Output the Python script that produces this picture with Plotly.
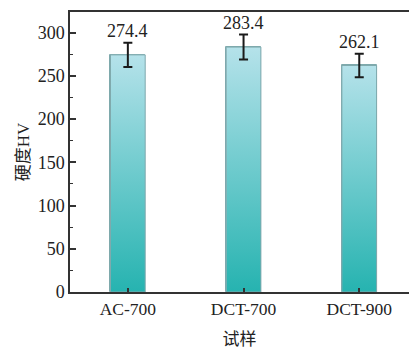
import plotly.graph_objects as go

categories = ["AC-700", "DCT-700", "DCT-900"]
hardness = [274.4, 283.4, 262.1]
errors = [14.0, 14.5, 13.5]
y_ticks = [0, 50, 100, 150, 200, 250, 300]

FONT = "Liberation Serif, Times New Roman, Noto Sans CJK SC, serif"
BAR_W = 0.3
x_pos = list(range(len(categories)))

fig = go.Figure()

# gradient-filled bars (drawn via scatter polygons on the numeric axis)
for i, v in zip(x_pos, hardness):
    xs = [i - BAR_W / 2, i + BAR_W / 2, i + BAR_W / 2, i - BAR_W / 2, i - BAR_W / 2]
    ys = [0, 0, v, v, 0]
    fig.add_trace(go.Scatter(
        x=xs, y=ys, mode="lines", fill="toself",
        line=dict(color="#7fa9ad", width=1),
        fillgradient=dict(type="vertical",
                          colorscale=[[0, "#26b3b0"], [1, "#b5e2ea"]]),
        hoverinfo="skip", showlegend=False,
    ))

# bar trace (outline) for the values
fig.add_trace(go.Bar(
    x=x_pos, y=hardness, width=BAR_W,
    marker=dict(color="rgba(0,0,0,0)", line=dict(color="#7fa9ad", width=1)),
    showlegend=False,
))

# error bars
fig.add_trace(go.Scatter(
    x=x_pos, y=hardness, mode="markers",
    marker=dict(size=1, color="rgba(0,0,0,0)"),
    error_y=dict(type="data", array=errors, visible=True,
                 color="#1a1a1a", thickness=2, width=4.5),
    showlegend=False,
))

for i, v, e in zip(x_pos, hardness, errors):
    fig.add_annotation(x=i, y=v + e, text=f"{v}", showarrow=False,
                       yanchor="bottom", yshift=0,
                       font=dict(family=FONT, size=18, color="#222"))

fig.update_layout(
    width=409, height=349,
    margin=dict(l=70, r=0, t=12, b=57),
    paper_bgcolor="white", plot_bgcolor="white",
    font=dict(family=FONT, size=17, color="#222"),
    bargap=0,
)
fig.update_xaxes(
    range=[-0.5, 2.43], tickvals=x_pos, ticktext=categories,
    showline=True, linecolor="#333", linewidth=1.5, mirror=True,
    ticks="inside", ticklen=4, tickwidth=1.5, tickcolor="#333",
    showgrid=False, zeroline=False,
    title=dict(text="试样", font=dict(family=FONT, size=17), standoff=18),
    tickfont=dict(family=FONT, size=17.5),
)
fig.update_yaxes(
    range=[0, 324], tickvals=y_ticks,
    showline=True, linecolor="#333", linewidth=1.5, mirror=False,
    ticks="inside", ticklen=6, tickwidth=1.5, tickcolor="#333",
    minor=dict(ticks="inside", ticklen=3, tickwidth=1, tickcolor="#333", dtick=25),
    showgrid=False, zeroline=False,
    title=dict(text="硬度HV", font=dict(family=FONT, size=17), standoff=4),
    tickfont=dict(family=FONT, size=18),
)

fig.write_html("out.html")
